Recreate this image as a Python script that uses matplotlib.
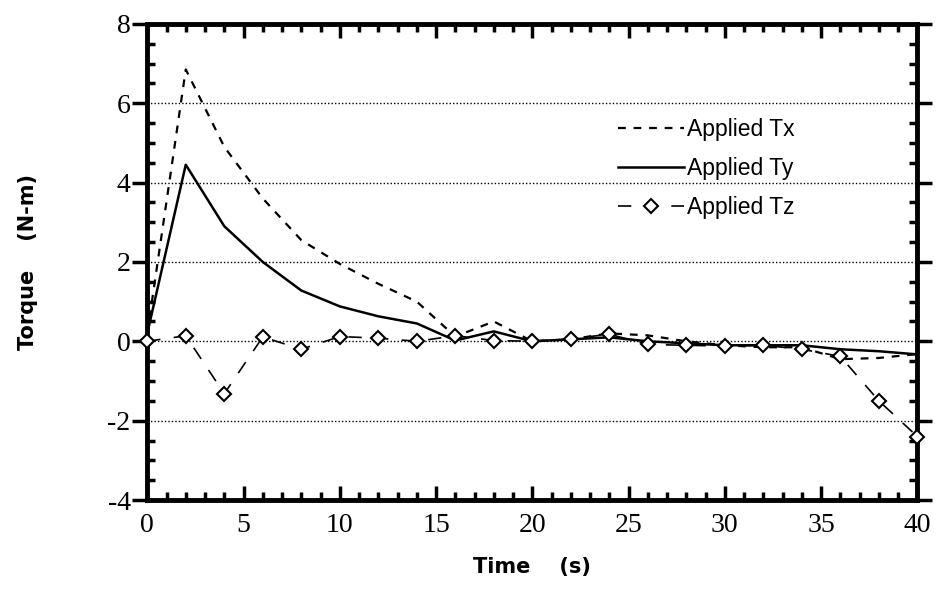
import matplotlib.pyplot as plt
from matplotlib.ticker import MultipleLocator

plt.rcParams["axes.unicode_minus"] = False

time = [0, 2, 4, 6, 8, 10, 12, 14, 16, 18, 20, 22, 24, 26, 28, 30, 32, 34, 36, 38, 40]
tx = [0.2, 6.85, 4.9, 3.6, 2.55, 1.95, 1.45, 1.0, 0.12, 0.5, 0.0, 0.05, 0.2, 0.15,
      0.0, -0.1, -0.15, -0.15, -0.45, -0.42, -0.32]
ty = [0.2, 4.45, 2.9, 2.0, 1.28, 0.88, 0.63, 0.45, 0.02, 0.25, 0.0, 0.05, 0.1, 0.0,
      -0.05, -0.1, -0.1, -0.1, -0.2, -0.25, -0.33]
tz = [0.0, 0.14, -1.32, 0.11, -0.2, 0.12, 0.08, 0.0, 0.14, 0.02, 0.0, 0.06, 0.18,
      -0.08, -0.1, -0.12, -0.1, -0.2, -0.38, -1.5, -2.4]

fig = plt.figure(figsize=(9.38, 5.96), dpi=100)
ax = fig.add_axes([0.157, 0.161, 0.821, 0.799])

for y in [-2, 0, 2, 4, 6]:
    ax.axhline(y, color="black", lw=1.0, ls=(0, (1, 1.5)), zorder=1)

ax.plot(time, tx, color="black", lw=1.6, ls=(0, (3.5, 3.5)), label="Applied Tx", zorder=3)
ax.plot(time, ty, color="black", lw=1.8, ls="-", label="Applied Ty", zorder=3)
ax.plot(time, tz, color="black", lw=1.2, ls=(0, (8, 8)), marker="D", markersize=7,
        markerfacecolor="white", markeredgecolor="black", markeredgewidth=1.5,
        label="Applied Tz", zorder=4, clip_on=False)

ax.set_xlim(0, 40)
ax.set_ylim(-4, 8)
ax.xaxis.set_major_locator(MultipleLocator(5))
ax.xaxis.set_minor_locator(MultipleLocator(1))
ax.yaxis.set_major_locator(MultipleLocator(2))
ax.yaxis.set_minor_locator(MultipleLocator(0.5))

for s in ax.spines.values():
    s.set_linewidth(3.5)

ax.tick_params(axis="x", which="major", direction="in", length=10, width=2.5,
               top=True, bottom=True, pad=9)
ax.tick_params(axis="x", which="minor", direction="in", length=6, width=2.5,
               top=True, bottom=True)
ax.tick_params(axis="y", which="major", direction="out", length=11, width=2.5,
               left=True, right=True, pad=1)
ax.tick_params(axis="y", which="minor", direction="in", length=6, width=2.5,
               left=True, right=True)

for lab in ax.get_xticklabels() + ax.get_yticklabels():
    lab.set_fontfamily("Liberation Serif")
    lab.set_fontsize(20)

ax.set_xlabel("Time    (s)", fontfamily="DejaVu Sans", fontweight="bold",
              fontsize=15, labelpad=14)
ax.set_ylabel("Torque    (N-m)", fontfamily="DejaVu Sans", fontweight="bold",
              fontsize=15, labelpad=50)

leg = ax.legend(loc="upper right", bbox_to_anchor=(0.868, 0.845), frameon=False,
                prop={"family": "Liberation Sans", "size": 16.5},
                handlelength=2.9, handletextpad=0.15, labelspacing=0.7)

fig.savefig("out.png", dpi=100, facecolor="white")
